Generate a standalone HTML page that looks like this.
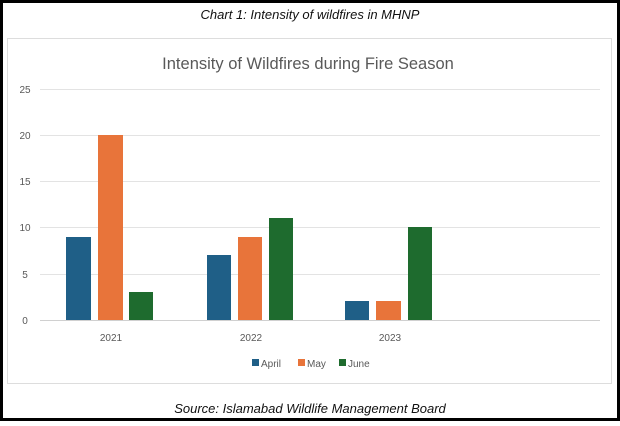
<!DOCTYPE html>
<html><head><style>
body{margin:0;width:620px;height:421px;overflow:hidden;background:#fff}
</style></head><body>
<svg width="620" height="421" xmlns="http://www.w3.org/2000/svg" font-family="Liberation Sans, sans-serif">
<rect x="1.5" y="1.5" width="617" height="418" fill="#fff" stroke="#000" stroke-width="3"/>
<text x="310" y="19" text-anchor="middle" font-size="13" font-style="italic" fill="#111">Chart 1: Intensity of wildfires in MHNP</text>
<rect x="7.5" y="38.5" width="604" height="345" fill="#fff" stroke="#ddd" stroke-width="1"/>
<text x="308" y="69" text-anchor="middle" font-size="16.5" fill="#595959">Intensity of Wildfires during Fire Season</text>
<g stroke="#e3e3e3" stroke-width="1">
<line x1="40" x2="600" y1="89.5" y2="89.5"/>
<line x1="40" x2="600" y1="135.5" y2="135.5"/>
<line x1="40" x2="600" y1="181.5" y2="181.5"/>
<line x1="40" x2="600" y1="227.5" y2="227.5"/>
<line x1="40" x2="600" y1="274.5" y2="274.5"/>
<line x1="40" x2="600" y1="320.5" y2="320.5" stroke="#d0d0d0"/>
</g>
<g font-size="10" fill="#595959" text-anchor="middle">
<text x="25" y="93">25</text><text x="25" y="139">20</text><text x="25" y="185">15</text>
<text x="25" y="231">10</text><text x="25" y="278">5</text><text x="25" y="324">0</text>
<text x="111" y="341">2021</text><text x="251" y="341">2022</text><text x="390" y="341">2023</text>
</g>
<g>
<rect x="66" y="237" width="25" height="83" fill="#1f5f87"/>
<rect x="98" y="135" width="25" height="185" fill="#e8743a"/>
<rect x="129" y="292" width="24" height="28" fill="#1e6b2e"/>
<rect x="207" y="255" width="24" height="65" fill="#1f5f87"/>
<rect x="238" y="237" width="24" height="83" fill="#e8743a"/>
<rect x="269" y="218" width="24" height="102" fill="#1e6b2e"/>
<rect x="345" y="301" width="24" height="19" fill="#1f5f87"/>
<rect x="376" y="301" width="25" height="19" fill="#e8743a"/>
<rect x="408" y="227" width="24" height="93" fill="#1e6b2e"/>
</g>
<g font-size="10" fill="#595959">
<rect x="252" y="359" width="7" height="7" fill="#1f5f87"/><text x="261" y="367">April</text>
<rect x="298" y="359" width="7" height="7" fill="#e8743a"/><text x="307" y="367">May</text>
<rect x="339" y="359" width="7" height="7" fill="#1e6b2e"/><text x="348" y="367">June</text>
</g>
<text x="310" y="413" text-anchor="middle" font-size="13" font-style="italic" fill="#111">Source: Islamabad Wildlife Management Board</text>
</svg>
</body></html>
